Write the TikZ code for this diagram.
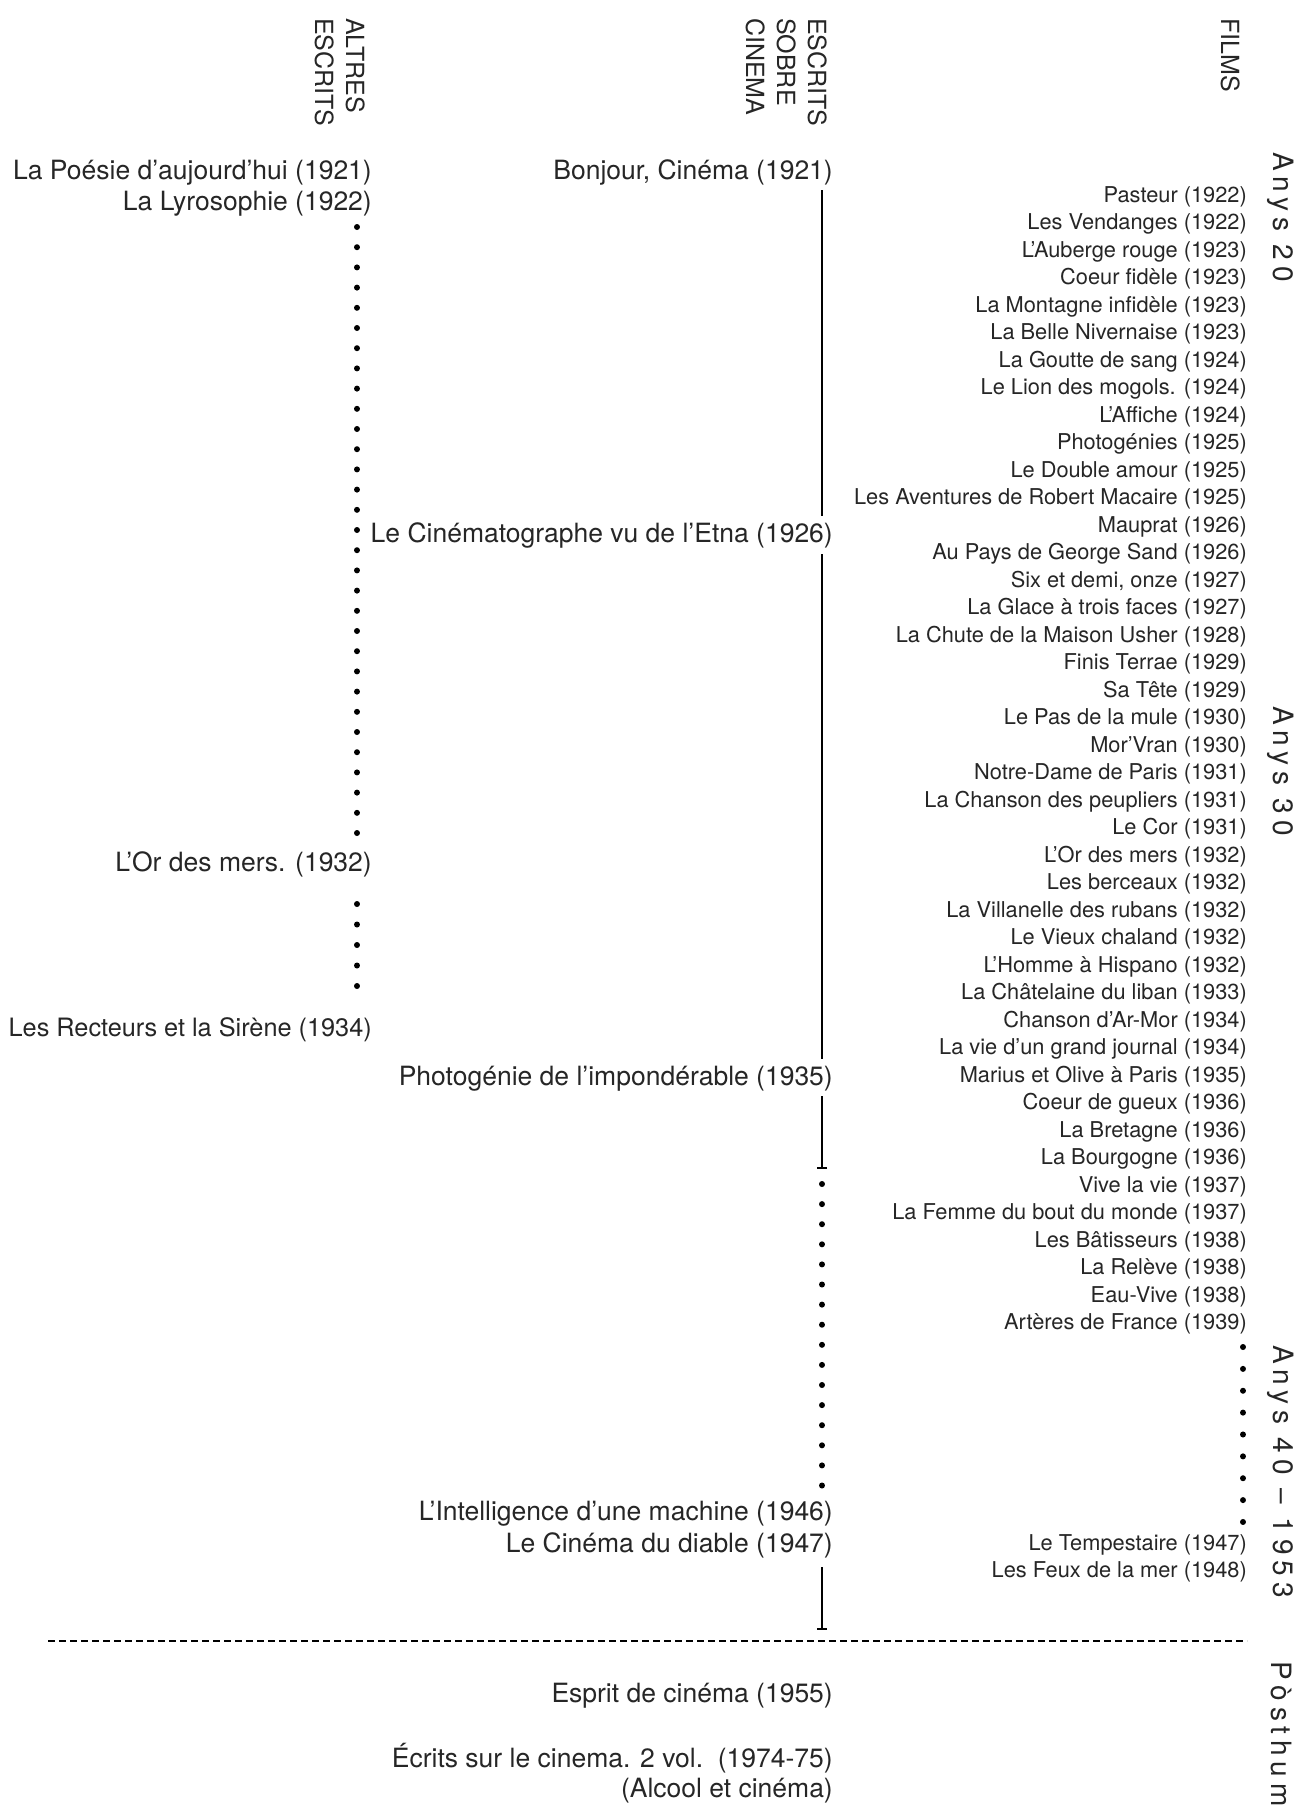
\documentclass[tikz,border=0pt]{standalone}
\usepackage{fontspec}
\setmainfont{TeX Gyre Heros}
\usetikzlibrary{arrows.meta}
\colorlet{ink}{black!85}
\begin{document}
\begin{tikzpicture}[x=1pt,y=-1pt,
  every node/.style={text=ink},
  film/.style={anchor=base east, inner sep=0pt, font=\fontsize{21.8}{26}\selectfont},
  big/.style={anchor=base east, inner sep=0pt, font=\fontsize{26.5}{31}\selectfont},
  head/.style={anchor=north west, rotate=-90, inner sep=0pt, align=left, font=\fontsize{25}{31}\selectfont},
  vlab/.style={anchor=west, rotate=-90, inner sep=0pt, font=\fontsize{28}{30}\selectfont\addfontfeatures{LetterSpace=21}},
  solidline/.style={line width=1.8pt},
  barline/.style={line width=1.8pt, -{Bar[width=10pt,line width=1.8pt]}},
  dotline/.style={line width=6pt, line cap=round, dash pattern=on 0.01pt off #1},
  sepline/.style={line width=1.5pt, dash pattern=on 7pt off 4pt}]
\fill[white] (0,0) rectangle (1296,1809);
\useasboundingbox (0,0) rectangle (1296,1809);

% headers
\node[head] (hAlt) at (365,18) {ALTRES\\ESCRITS};
\node[head] (hCin) at (827,18) {ESCRITS\\SOBRE\\CINEMA};
\node[head] (hFil) at (1240,18) {FILMS};

% left column
\node[big] (p1) at (372,179.7) {La Poésie d’aujourd’hui (1921)};
\node[big] (p2) at (372,210.7) {La Lyrosophie (1922)};
\node[big] (p3) at (372,871.7) {L’Or des mers. (1932)};
\node[big, font=\fontsize{25.3}{31}\selectfont] (p4) at (372,1036.7) {Les Recteurs et la Sirène (1934)};
\coordinate (l1a) at (357,227);
\coordinate (l1b) at (357,834);
\coordinate (l2a) at (357,904);
\coordinate (l2b) at (357,987);
\draw[dotline=20.19pt] (l1a) -- (l1b);
\draw[dotline=20.49pt] (l2a) -- (l2b);

% middle column
\node[big] (m1) at (833,179.7) {Bonjour, Cinéma (1921)};
\node[big] (m2) at (833,542.7) {Le Cinématographe vu de l’Etna (1926)};
\node[big] (m3) at (833,1085.7) {Photogénie de l’impondérable (1935)};
\node[big] (m4) at (833,1520.7) {L’Intelligence d’une machine (1946)};
\node[big] (m5) at (833,1552.7) {Le Cinéma du diable (1947)};
\coordinate (s1a) at (822,190);
\coordinate (s1b) at (822,516);
\coordinate (s2a) at (822,554);
\coordinate (s2b) at (822,1059);
\coordinate (s3a) at (822,1096);
\coordinate (s3b) at (822,1169);
\coordinate (s4a) at (822,1567);
\coordinate (s4b) at (822,1630);
\coordinate (md1) at (822,1184);
\coordinate (md2) at (822,1486);
\draw[solidline] (s1a) -- (s1b);
\draw[solidline] (s2a) -- (s2b);
\draw[barline] (s3a) -- (s3b);
\draw[barline] (s4a) -- (s4b);
\draw[dotline=20.09pt] (md1) -- (md2);

% films
\foreach \t [count=\i from 0] in {Pasteur (1922), Les Vendanges (1922), L’Auberge rouge (1923), Coeur fidèle (1923), La Montagne infidèle (1923), La Belle Nivernaise (1923), La Goutte de sang (1924), Le Lion des mogols. (1924), L’Affiche (1924), Photogénies (1925), Le Double amour (1925), Les Aventures de Robert Macaire (1925), Mauprat (1926), Au Pays de George Sand (1926), {Six et demi, onze (1927)}, La Glace à trois faces (1927), La Chute de la Maison Usher (1928), Finis Terrae (1929), Sa Tête (1929), Le Pas de la mule (1930), Mor’Vran (1930), Notre-Dame de Paris (1931), La Chanson des peupliers (1931), Le Cor (1931), L’Or des mers (1932), Les berceaux (1932), La Villanelle des rubans (1932), Le Vieux chaland (1932), L’Homme à Hispano (1932), La Châtelaine du liban (1933), Chanson d’Ar-Mor (1934), La vie d’un grand journal (1934), Marius et Olive à Paris (1935), Coeur de gueux (1936), La Bretagne (1936), La Bourgogne (1936), Vive la vie (1937), La Femme du bout du monde (1937), Les Bâtisseurs (1938), La Relève (1938), Eau-Vive (1938), Artères de France (1939)}
  \node[film] (f\i) at (1247,{202.2+27.5*\i}) {\t};
\node[film] (f42) at (1247,1550.2) {Le Tempestaire (1947)};
\node[film] (f43) at (1247,1577.2) {Les Feux de la mer (1948)};
\coordinate (rd1) at (1243,1347);
\coordinate (rd2) at (1243,1522);
\draw[dotline=21.86pt] (rd1) -- (rd2);

% period labels
\node[vlab] (a20) at (1281,152) {Anys 20};
\node[vlab] (a30) at (1281,706) {Anys 30};
\node[vlab] (a40) at (1281,1345) {Anys 40 – 1953};
\node[vlab] (apo) at (1281,1661) {Pòsthum};

% separator
\coordinate (sepL) at (48,1641);
\coordinate (sepR) at (1247,1641);
\draw[sepline] (sepL) -- (sepR);

% posthumous
\node[big] (b1) at (833,1702.7) {Esprit de cinéma (1955)};
\node[big] (b2) at (833,1767.7) {Écrits sur le cinema. 2 vol.\ \ (1974-75)};
\node[big] (b3) at (833,1797.7) {(Alcool et cinéma)};
\end{tikzpicture}
\end{document}
